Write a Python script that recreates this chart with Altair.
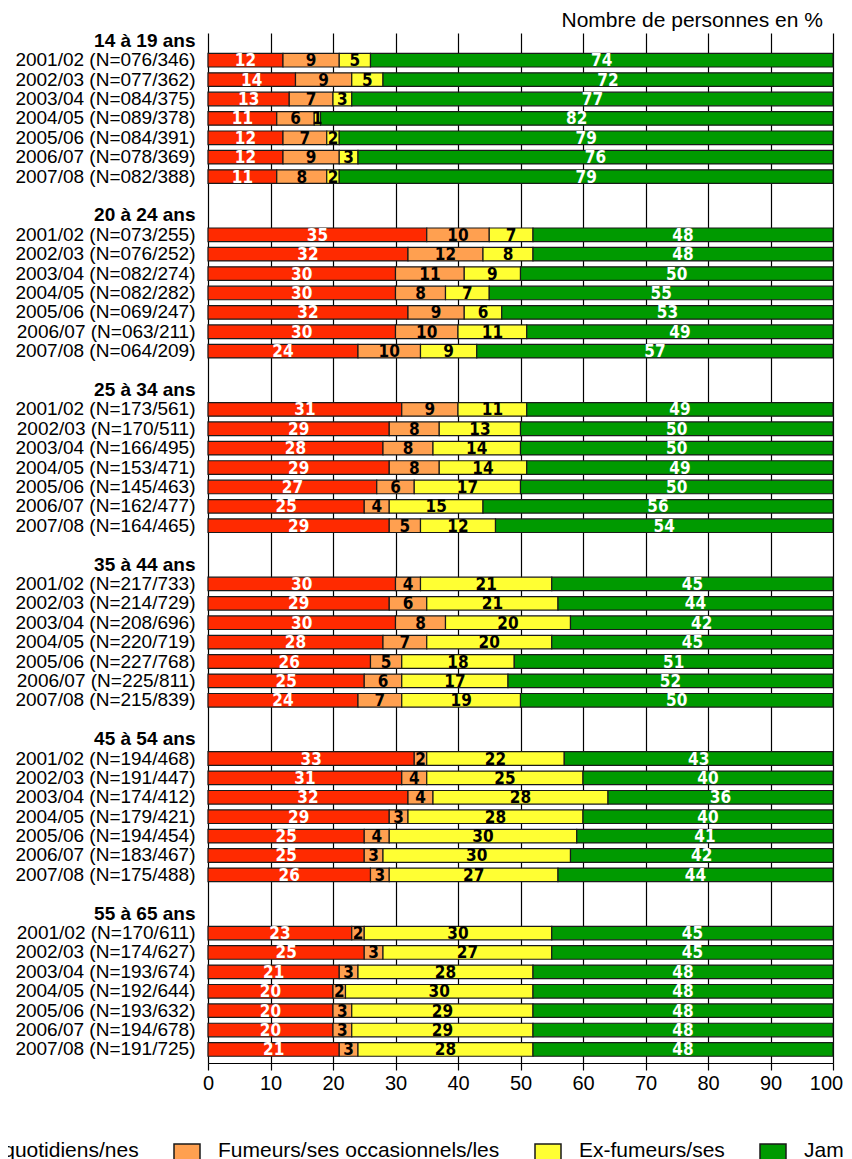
import altair as alt
import pandas as pd

groups = ["14 à 19 ans", "20 à 24 ans", "25 à 34 ans", "35 à 44 ans", "45 à 54 ans", "55 à 65 ans"]
years = ["2001/02", "2002/03", "2003/04", "2004/05", "2005/06", "2006/07", "2007/08"]
n_counts = [
    ["076/346", "077/362", "084/375", "089/378", "084/391", "078/369", "082/388"],
    ["073/255", "076/252", "082/274", "082/282", "069/247", "063/211", "064/209"],
    ["173/561", "170/511", "166/495", "153/471", "145/463", "162/477", "164/465"],
    ["217/733", "214/729", "208/696", "220/719", "227/768", "225/811", "215/839"],
    ["194/468", "191/447", "174/412", "179/421", "194/454", "183/467", "175/488"],
    ["170/611", "174/627", "193/674", "192/644", "193/632", "194/678", "191/725"],
]
categories = ["Fumeurs/ses quotidiens/nes", "Fumeurs/ses occasionnels/les", "Ex-fumeurs/ses", "Jamais fumé"]
colors = ["#ff2a00", "#ffa050", "#ffff33", "#009a00"]

daily = [[12, 14, 13, 11, 12, 12, 11], [35, 32, 30, 30, 32, 30, 24], [31, 29, 28, 29, 27, 25, 29],
         [30, 29, 30, 28, 26, 25, 24], [33, 31, 32, 29, 25, 25, 26], [23, 25, 21, 20, 20, 20, 21]]
occasional = [[9, 9, 7, 6, 7, 9, 8], [10, 12, 11, 8, 9, 10, 10], [9, 8, 8, 8, 6, 4, 5],
              [4, 6, 8, 7, 5, 6, 7], [2, 4, 4, 3, 4, 3, 3], [2, 3, 3, 2, 3, 3, 3]]
ex_smokers = [[5, 5, 3, 1, 2, 3, 2], [7, 8, 9, 7, 6, 11, 9], [11, 13, 14, 14, 17, 15, 12],
              [21, 21, 20, 20, 18, 17, 19], [22, 25, 28, 28, 30, 30, 27], [30, 27, 28, 30, 29, 29, 28]]
never = [[74, 72, 77, 82, 79, 76, 79], [48, 48, 50, 55, 53, 49, 57], [49, 50, 50, 49, 50, 56, 54],
         [45, 44, 42, 45, 51, 52, 50], [43, 40, 36, 40, 41, 42, 44], [45, 45, 48, 48, 48, 48, 48]]
x_ticks = [0, 10, 20, 30, 40, 50, 60, 70, 80, 90, 100]

series = [daily, occasional, ex_smokers, never]
rows = []
domain = []
for gi, g in enumerate(groups):
    domain.append(g)
    for yi, yr in enumerate(years):
        label = f"{yr} (N={n_counts[gi][yi]})"
        domain.append(label)
        for ci, cat in enumerate(categories):
            rows.append({"row": label, "cat": cat, "order": ci, "value": series[ci][gi][yi]})
    if gi < len(groups) - 1:
        domain.append(" " * (gi + 1))
df = pd.DataFrame(rows)

font = "Liberation Sans, Arial, Helvetica, sans-serif"
narrow = "Liberation Sans Narrow, Arial Narrow, DejaVu Sans Condensed, sans-serif"

y_enc = alt.Y(
    "row:N",
    scale=alt.Scale(domain=domain, paddingInner=0.3, paddingOuter=0.2, align=0.13),
    axis=alt.Axis(
        title=None, domain=False, ticks=False, labelFontSize=19, labelFont=font,
        labelColor="black", labelPadding=13, labelLimit=400,
        labelFontWeight={"condition": {"test": "indexof(datum.label, ' ans') >= 0", "value": "bold"}, "value": "normal"},
    ),
)
x_scale = alt.Scale(domain=[0, 100], nice=False, zero=True)
x_axis = alt.Axis(
    title=None, values=x_ticks, grid=True, gridColor="black", gridWidth=1.2, gridOpacity=1,
    domainColor="black", domainWidth=1.2, tickColor="black", tickSize=7, tickWidth=1.2,
    labelFontSize=20, labelFont=font, labelColor="black", labelPadding=3, labelFlush=False,
    labelOffset={"condition": {"test": "datum.value == 100", "value": -7}, "value": 0},
)

base = alt.Chart(df)
bars = base.mark_bar(stroke="#1a1a1a", strokeWidth=1.2).encode(
    x=alt.X("value:Q", stack="zero", scale=x_scale, axis=x_axis),
    y=y_enc,
    color=alt.Color(
        "cat:N",
        scale=alt.Scale(domain=categories, range=colors),
        legend=alt.Legend(
            title=None, orient="none", legendX=-377, legendY=1110, direction="horizontal",
            columns=4, symbolType="square", symbolSize=676, symbolStrokeColor="#1a1a1a",
            symbolStrokeWidth=1.5, symbolOpacity=1, labelFontSize=21, labelFont=font,
            labelColor="black", labelOffset=17, columnPadding=32, labelLimit=600,
            labelBaseline="alphabetic",
        ),
    ),
    order=alt.Order("order:Q"),
)

labels = base.transform_stack(
    stack="value", groupby=["row"], sort=[alt.SortField("order")], as_=["x0", "x1"]
).transform_calculate(
    mid="(datum.x0 + datum.x1) / 2"
).mark_text(font=narrow, fontSize=17, fontWeight="bold", baseline="middle", dy=1).encode(
    x=alt.X("mid:Q", scale=x_scale, axis=x_axis),
    y=y_enc,
    text="value:Q",
    color=alt.condition("datum.order == 0 || datum.order == 3", alt.value("white"), alt.value("black")),
)

chart = alt.layer(bars, labels).properties(
    width=625,
    height=1030,
    title=alt.Title(
        "Nombre de personnes en %", anchor="end", fontSize=21, fontWeight="normal", font=font,
        color="black", offset=0, dx=-10, frame="group",
    ),
    autosize=alt.AutoSizeParams(type="none"),
    padding={"left": 200, "top": 25, "right": 11, "bottom": 110},
).configure_view(stroke=None)

chart.save("out.html", embed_options={"renderer": "svg", "actions": False})
